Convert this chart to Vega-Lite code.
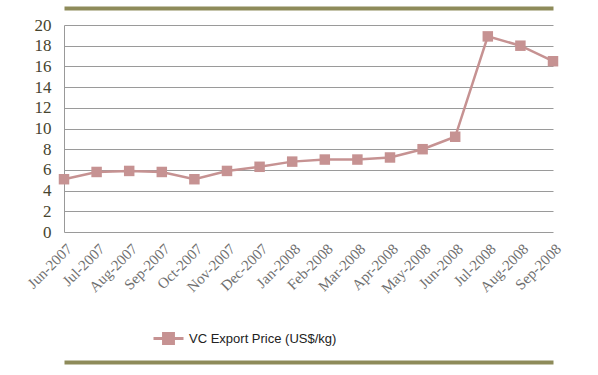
{
  "$schema": "https://vega.github.io/schema/vega-lite/v6.json",
  "autosize": {"type": "none"},
  "width": 489,
  "height": 207,
  "padding": {"left": 64, "top": 25, "right": 45, "bottom": 143},
  "background": "white",
  "data": {"values": [
    {"month": "Jun-2007", "price": 5.1},
    {"month": "Jul-2007", "price": 5.8},
    {"month": "Aug-2007", "price": 5.9},
    {"month": "Sep-2007", "price": 5.8},
    {"month": "Oct-2007", "price": 5.1},
    {"month": "Nov-2007", "price": 5.9},
    {"month": "Dec-2007", "price": 6.3},
    {"month": "Jan-2008", "price": 6.8},
    {"month": "Feb-2008", "price": 7.0},
    {"month": "Mar-2008", "price": 7.0},
    {"month": "Apr-2008", "price": 7.2},
    {"month": "May-2008", "price": 8.0},
    {"month": "Jun-2008", "price": 9.2},
    {"month": "Jul-2008", "price": 18.9},
    {"month": "Aug-2008", "price": 18.0},
    {"month": "Sep-2008", "price": 16.5}
  ]},
  "config": {"view": {"stroke": null}, "axisY": {"labelFont": "Liberation Serif"}, "axisX": {"labelFont": "Liberation Serif"}},
  "resolve": {"axis": {"x": "independent"}},
  "layer": [
    {
      "mark": {"type": "line", "strokeWidth": 2.5, "point": {"shape": "square", "size": 110, "filled": true, "opacity": 1}},
      "encoding": {
        "x": {"field": "month", "type": "ordinal", "sort": null, "scale": {"type": "point", "padding": 0},
          "axis": {"title": null, "labelAngle": -45, "labelFont": "Liberation Serif", "labelFontSize": 15, "labelColor": "#707070", "ticks": false, "domain": false, "labelPadding": 9, "grid": false, "labelOverlap": false}},
        "y": {"field": "price", "type": "quantitative", "scale": {"domain": [0, 20], "nice": false},
          "axis": {"title": null, "values": [0,2,4,6,8,10,12,14,16,18,20], "labelOverlap": false, "labelFont": "Liberation Serif", "labelFontSize": 17, "labelColor": "#46442e", "ticks": false, "domain": true, "domainColor": "#999999", "gridColor": "#9a9a9a", "labelPadding": 13}},
        "color": {"datum": "VC Export Price (US$/kg)", "type": "nominal",
          "scale": {"range": ["#c69292"]},
          "legend": {"title": null, "orient": "none", "legendX": 88, "legendY": 297, "labelFont": "Liberation Sans", "labelFontSize": 13, "labelColor": "#222222",
            "symbolType": "M -1 0 L 1 0 M -0.33 -0.33 L 0.33 -0.33 L 0.33 0.33 L -0.33 0.33 Z",
            "symbolSize": 900, "symbolStrokeWidth": 3, "symbolFillColor": "#c69292", "symbolStrokeColor": "#c69292", "labelOffset": 4}}
      }
    },
    {
      "mark": {"type": "point", "opacity": 0},
      "encoding": {
        "x": {"field": "month", "type": "ordinal", "sort": null,
          "axis": {"orient": "top", "title": null, "labels": false, "ticks": false, "grid": false, "domain": true, "domainColor": "#8e8b5a", "domainWidth": 4, "offset": 17}}
      }
    },
    {
      "mark": {"type": "point", "opacity": 0},
      "encoding": {
        "x": {"field": "month", "type": "ordinal", "sort": null,
          "axis": {"orient": "bottom", "title": null, "labels": false, "ticks": false, "grid": false, "domain": true, "domainColor": "#8e8b5a", "domainWidth": 4, "offset": 130}}
      }
    }
  ]
}
